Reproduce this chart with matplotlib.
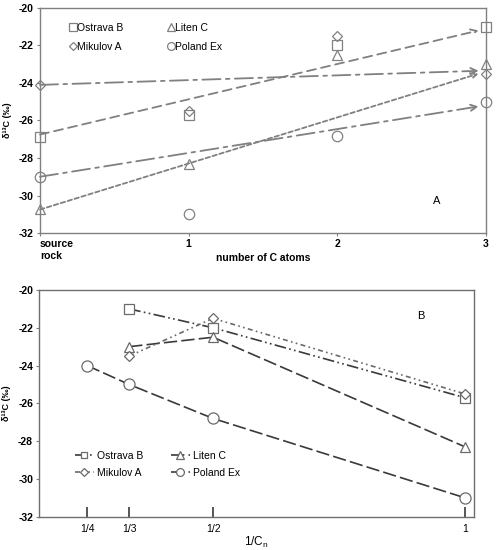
import matplotlib
matplotlib.use("Agg")
import matplotlib.pyplot as plt
import numpy as np

plt.rcParams['font.family'] = ['Liberation Sans', 'DejaVu Sans']

# ---------------- data ----------------
series = ["Ostrava B", "Liten C", "Mikulov A", "Poland Ex"]
markers = ["s", "^", "D", "o"]

# Panel A: x = source rock (0), C1, C2, C3
a_x = [0, 1, 2, 3]
a_xticklabels = ["source\nrock", "1", "2", "3"]
ostrava_a = [-26.9, -25.7, -22.0, -21.0]
liten_a = [-30.7, -28.3, -22.5, -23.0]
mikulov_a = [-24.1, -25.5, -21.5, -23.5]
poland_a = [-29.0, -31.0, -26.8, -25.0]

# trend arrows in panel A (start at x=0, end near x=3)
trend_x = [0.0, 2.95]
trend_ostrava = [-26.75, -21.2]
trend_liten = [-30.75, -23.5]
trend_mikulov = [-24.1, -23.35]
trend_poland = [-29.0, -25.25]

# Panel B: x = 1/Cn
b_ticks = [1/4, 1/3, 1/2, 1]
b_ticklabels = ["1/4", "1/3", "1/2", "1"]
ostrava_bx = [1/3, 1/2, 1]
ostrava_b = [-21.0, -22.0, -25.7]
liten_bx = [1/3, 1/2, 1]
liten_b = [-23.0, -22.5, -28.3]
mikulov_bx = [1/3, 1/2, 1]
mikulov_b = [-23.5, -21.5, -25.5]
poland_bx = [1/4, 1/3, 1/2, 1]
poland_b = [-24.0, -25.0, -26.8, -31.0]

# legend order (row-wise: Ostrava, Liten / Mikulov, Poland)
legend_order = [0, 2, 1, 3]

fig = plt.figure(figsize=(4.96, 5.5), dpi=100)

# ---------------- Panel A ----------------
axA = fig.add_axes([40/496, 1-233/550, 446/496, 225/550])
gray = "#808080"
msizes = [7, 7.5, 5.5, 7.5]
a_vals = [ostrava_a, liten_a, mikulov_a, poland_a]
for name, m, ms, vals in zip(series, markers, msizes, a_vals):
    axA.plot(a_x, vals, linestyle="none", marker=m, markersize=ms,
             markerfacecolor="none", markeredgecolor=gray, markeredgewidth=0.9,
             label=name, clip_on=False, zorder=3)

trend_styles = {
    "Ostrava B": (0, (5, 3)),
    "Liten C": (0, (2.5, 1.5)),
    "Mikulov A": (0, (10, 3, 2, 3)),
    "Poland Ex": (0, (10, 3, 2, 3)),
}
trends = [trend_ostrava, trend_liten, trend_mikulov, trend_poland]
for name, tr in zip(series, trends):
    axA.annotate("", xy=(trend_x[1], tr[1]), xytext=(trend_x[0], tr[0]),
                 arrowprops=dict(arrowstyle="->", color=gray, lw=1.3,
                                 linestyle=trend_styles[name],
                                 shrinkA=0, shrinkB=0,
                                 mutation_scale=11),
                 zorder=2)

axA.set_xlim(0, 3)
axA.set_ylim(-32, -20)
axA.set_yticks(np.arange(-32, -19, 2))
axA.set_yticklabels([str(v) for v in range(-32, -19, 2)], fontweight="bold", fontsize=7.5)
axA.set_xticks(a_x)
axA.set_xticklabels(a_xticklabels, fontweight="bold", fontsize=7.5)
lbls = axA.get_xticklabels()
lbls[0].set_horizontalalignment("left")
axA.tick_params(axis="both", length=2.5, color=gray, pad=2)
for s in axA.spines.values():
    s.set_color(gray)
    s.set_linewidth(1.0)
axA.set_xlabel("number of C atoms", fontweight="bold", fontsize=7.5, labelpad=-6)
axA.set_ylabel("δ¹³C (‰)", fontweight="bold", fontsize=6.5, labelpad=5)
axA.text(2.67, -30.3, "A", fontsize=8, ha="center", va="center")
hA, lA = axA.get_legend_handles_labels()
axA.legend([hA[i] for i in legend_order], [lA[i] for i in legend_order],
           ncol=2, loc="upper left", bbox_to_anchor=(0.045, 0.975),
           frameon=False, fontsize=7.5, handlelength=0.6,
           handletextpad=0.1, columnspacing=4.3, labelspacing=0.85,
           markerscale=0.75)

# ---------------- Panel B ----------------
axB = fig.add_axes([39.3/496, 33.3/550, 434.7/496, 226.7/550])
dark = "#3a3a3a"
mgray = "#6a6a6a"
b_data = [
    ("Ostrava B", "s", ostrava_bx, ostrava_b, (0, (7, 2, 1, 2, 1, 2)), dark, 7),
    ("Liten C", "^", liten_bx, liten_b, (0, (8, 2.5)), dark, 7.5),
    ("Mikulov A", "D", mikulov_bx, mikulov_b, (0, (3, 2, 1, 2, 1, 2)), mgray, 5.5),
    ("Poland Ex", "o", poland_bx, poland_b, (0, (8, 2.5)), dark, 8),
]
for name, m, xs, ys, ls, col, ms in b_data:
    axB.plot(xs, ys, linestyle=ls, color=col, lw=1.2, marker=m, markersize=ms,
             markerfacecolor="white", markeredgecolor=mgray, markeredgewidth=0.9,
             label=name, zorder=3)

axB.set_xlim(0.155, 1.018)
axB.set_ylim(-32, -20)
axB.set_yticks(np.arange(-32, -19, 2))
axB.set_yticklabels([str(v) for v in range(-32, -19, 2)], fontweight="bold", fontsize=7.5)
axB.set_xticks(b_ticks)
axB.set_xticklabels(b_ticklabels, fontsize=7.5)
axB.tick_params(axis="x", direction="in", length=7, width=1.2, color=dark, pad=5)
axB.tick_params(axis="y", length=2.5, color=gray, pad=2)
for s in axB.spines.values():
    s.set_color("#6f6f6f")
    s.set_linewidth(1.0)
axB.set_xlabel("1/C$_\\mathregular{n}$", fontsize=8.5, labelpad=1)
axB.set_ylabel("δ¹³C (‰)", fontweight="bold", fontsize=6.5, labelpad=5)
axB.text(0.912, -21.35, "B", fontsize=8, ha="center", va="center")
hB, lB = axB.get_legend_handles_labels()
axB.legend([hB[i] for i in legend_order], [lB[i] for i in legend_order],
           ncol=2, loc="lower left", bbox_to_anchor=(0.06, 0.13),
           frameon=False, fontsize=7.5, handlelength=1.8,
           handletextpad=0.3, columnspacing=2.7, labelspacing=0.7,
           markerscale=0.7)

fig.savefig("out.png", dpi=100)
